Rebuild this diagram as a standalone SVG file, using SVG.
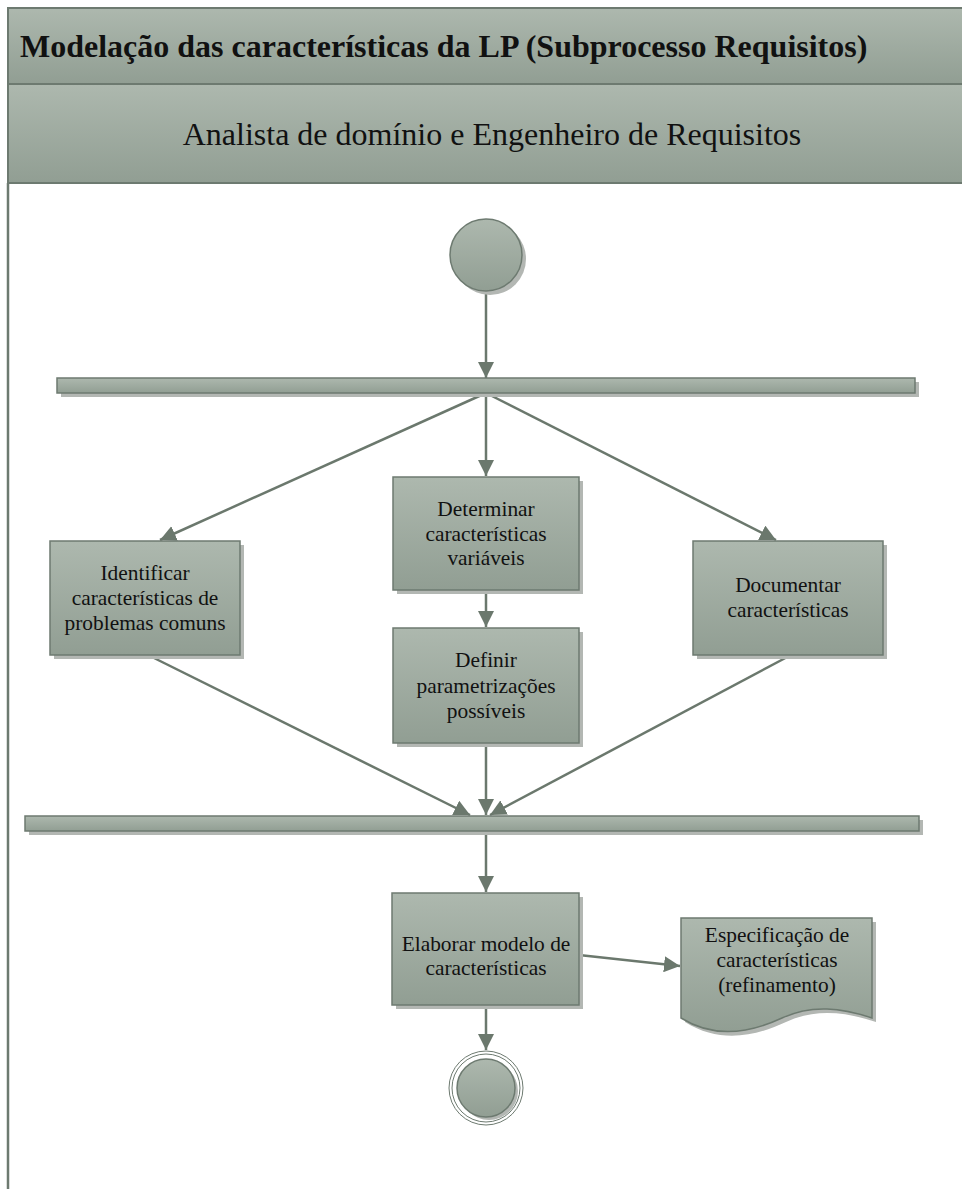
<svg xmlns="http://www.w3.org/2000/svg" width="962" height="1189" viewBox="0 0 962 1189">
  <defs>
    <linearGradient id="fillGrad" x1="0" y1="0" x2="0" y2="1">
      <stop offset="0" stop-color="#adb8ae"/>
      <stop offset="1" stop-color="#919e93"/>
    </linearGradient>
    <marker id="arrow" markerUnits="userSpaceOnUse" markerWidth="18" markerHeight="16" refX="16" refY="8" orient="auto">
      <path d="M0,0 L16,8 L0,16 Z" fill="#6b786d"/>
    </marker>
    <style>
      .shape { fill: url(#fillGrad); stroke: #6d7a70; stroke-width: 1.5; }
      .shadow { fill: #b3b7b3; }
      .edge { fill: none; stroke: #6b786d; stroke-width: 2.5; marker-end: url(#arrow); }
      .serif { font-family: "Liberation Serif", "DejaVu Serif", serif; fill: #111; }
      .lbl { font-size: 21.4px; text-anchor: middle; }
      .frame { fill: url(#fillGrad); stroke: #6d7a70; stroke-width: 2; }
    </style>
  </defs>

  <rect width="962" height="1189" fill="#ffffff"/>

  <!-- Swimlane frame -->
  <g id="lane">
    <rect class="frame" x="8" y="8" width="970" height="76"/>
    <rect class="frame" x="8" y="84" width="970" height="99"/>
    <line x1="8" y1="183" x2="8" y2="1189" stroke="#6d7a70" stroke-width="2.5"/>
    <text class="serif" x="20" y="57" font-size="32" font-weight="bold">Modelação das características da LP (Subprocesso Requisitos)</text>
    <text class="serif" x="492" y="145" font-size="32" text-anchor="middle">Analista de domínio e Engenheiro de Requisitos</text>
  </g>

  <!-- Connectors -->
  <g id="connectors">
    <line class="edge" x1="486" y1="292" x2="486" y2="378"/>
    <line class="edge" x1="486" y1="393" x2="160" y2="540"/>
    <line class="edge" x1="486" y1="393" x2="486" y2="476"/>
    <line class="edge" x1="486" y1="393" x2="776" y2="540"/>
    <line class="edge" x1="486" y1="590" x2="486" y2="627"/>
    <line class="edge" x1="148" y1="655" x2="470" y2="815"/>
    <line class="edge" x1="486" y1="743" x2="486" y2="815"/>
    <line class="edge" x1="791" y1="655" x2="490" y2="815"/>
    <line class="edge" x1="486" y1="831" x2="486" y2="892"/>
    <line class="edge" x1="579" y1="955" x2="680" y2="966"/>
    <line class="edge" x1="486" y1="1005" x2="486" y2="1050"/>
  </g>

  <!-- Initial node -->
  <g id="start">
    <circle class="shadow" cx="490" cy="259" r="36"/>
    <circle class="shape" cx="486" cy="255" r="36"/>
  </g>

  <!-- Fork bar -->
  <g id="fork">
    <rect class="shadow" x="61" y="382" width="858" height="15"/>
    <rect class="shape" x="57" y="378" width="858" height="15"/>
  </g>

  <g id="identificar">
    <rect class="shadow" x="54" y="545" width="190" height="114"/>
    <rect class="shape" x="50" y="541" width="190" height="114"/>
    <text class="serif lbl" x="145" y="580">Identificar</text>
    <text class="serif lbl" x="145" y="605">características de</text>
    <text class="serif lbl" x="145" y="630">problemas comuns</text>
  </g>

  <g id="determinar">
    <rect class="shadow" x="397" y="481" width="186" height="113"/>
    <rect class="shape" x="393" y="477" width="186" height="113"/>
    <text class="serif lbl" x="486" y="516">Determinar</text>
    <text class="serif lbl" x="486" y="541">características</text>
    <text class="serif lbl" x="486" y="565">variáveis</text>
  </g>

  <g id="definir">
    <rect class="shadow" x="397" y="632" width="186" height="115"/>
    <rect class="shape" x="393" y="628" width="186" height="115"/>
    <text class="serif lbl" x="486" y="667">Definir</text>
    <text class="serif lbl" x="486" y="693">parametrizações</text>
    <text class="serif lbl" x="486" y="718">possíveis</text>
  </g>

  <g id="documentar">
    <rect class="shadow" x="697" y="545" width="190" height="114"/>
    <rect class="shape" x="693" y="541" width="190" height="114"/>
    <text class="serif lbl" x="788" y="592">Documentar</text>
    <text class="serif lbl" x="788" y="617">características</text>
  </g>

  <!-- Join bar -->
  <g id="join">
    <rect class="shadow" x="29" y="820" width="894" height="15"/>
    <rect class="shape" x="25" y="816" width="894" height="15"/>
  </g>

  <g id="elaborar">
    <rect class="shadow" x="396" y="897" width="187" height="112"/>
    <rect class="shape" x="392" y="893" width="187" height="112"/>
    <text class="serif lbl" x="486" y="951">Elaborar modelo de</text>
    <text class="serif lbl" x="486" y="975">características</text>
  </g>

  <!-- Document output -->
  <g id="especificacao">
    <path class="shadow" d="M685,922 L876,922 L876,1022 C846,1012 816,1008 786,1022 C756,1036 720,1044 685,1022 Z"/>
    <path class="shape" d="M681,918 L872,918 L872,1018 C842,1008 812,1004 782,1018 C752,1032 716,1040 681,1018 Z"/>
    <text class="serif lbl" x="777" y="942">Especificação de</text>
    <text class="serif lbl" x="777" y="967">características</text>
    <text class="serif lbl" x="777" y="992">(refinamento)</text>
  </g>

  <!-- Final node -->
  <g id="end">
    <circle cx="486" cy="1088" r="37" fill="#ffffff" stroke="#6d7a70" stroke-width="1"/>
    <circle cx="486" cy="1088" r="34" fill="none" stroke="#6d7a70" stroke-width="1"/>
    <circle class="shadow" cx="489" cy="1091" r="29"/>
    <circle class="shape" cx="486" cy="1088" r="29"/>
  </g>
</svg>
